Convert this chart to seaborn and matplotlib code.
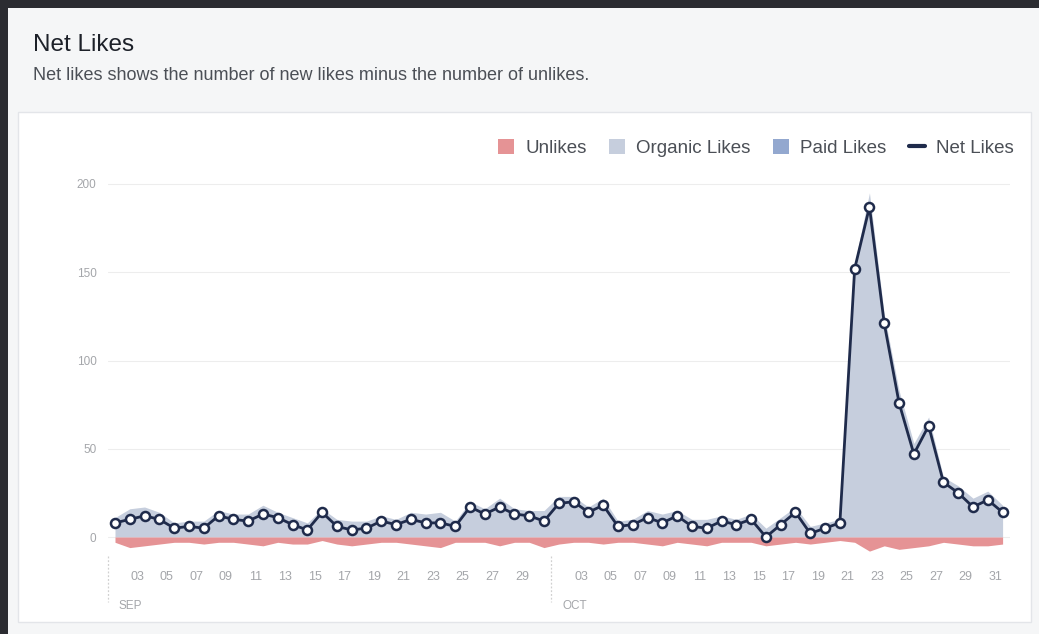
import pandas as pd
import matplotlib
matplotlib.use("Agg")
import matplotlib.pyplot as plt
import matplotlib.dates as mdates
from matplotlib.patches import Rectangle, Patch
from matplotlib.lines import Line2D
import seaborn as sns

# ---- data -------------------------------------------------------------
start_day = "2014-09-01 12:00"
end_day = "2014-10-31 12:00"

net_likes = [8, 10, 12, 10, 5, 6, 5, 12, 10, 9, 13, 11, 7, 4, 14, 6, 4, 5, 9, 7,
             10, 8, 8, 6, 17, 13, 17, 13, 12, 9,
             19, 20, 14, 18, 6, 7, 11, 8, 12, 6, 5, 9, 7, 10, 0, 7, 14, 2, 5, 8,
             152, 187, 121, 76, 47, 63, 31, 25, 17, 21, 14]
unlikes = [3, 6, 5, 4, 3, 3, 4, 3, 3, 4, 5, 3, 4, 4, 2, 4, 5, 4, 3, 3,
           4, 5, 6, 3, 3, 3, 5, 3, 3, 6,
           4, 3, 3, 4, 3, 3, 4, 5, 3, 4, 5, 3, 3, 3, 5, 4, 3, 4, 3, 2,
           3, 8, 5, 7, 6, 5, 3, 4, 5, 5, 4]
organic_likes = [11, 16, 17, 14, 8, 9, 9, 15, 13, 13, 18, 14, 11, 8, 16, 10, 9, 9, 12, 10,
                 14, 13, 14, 9, 20, 16, 22, 16, 15, 15,
                 23, 23, 17, 22, 9, 10, 15, 13, 15, 10, 10, 12, 10, 13, 5, 11, 17, 6, 8, 10,
                 155, 195, 126, 83, 53, 68, 34, 29, 22, 26, 18]
paid_likes = [0] * 61
month_labels = ["SEP", "OCT"]
month_starts = ["2014-09-01", "2014-10-01"]
y_ticks = [0, 50, 100, 150, 200]
legend_labels = ["Unlikes", "Organic Likes", "Paid Likes", "Net Likes"]

days = pd.date_range(start_day, end_day, freq="D")
df = pd.DataFrame({"day": days, "net": net_likes, "unlikes": unlikes,
                   "organic": organic_likes, "paid": paid_likes})

# ---- colours ----------------------------------------------------------
NAVY = "#1f2b4b"
ORGANIC = "#c6cedd"
PAID = "#93a8cf"
UNLIKE = "#e59395"
TICK_TXT = "#a4a6aa"

sns.set_style("white")
plt.rcParams["font.family"] = ["Liberation Sans", "DejaVu Sans"]

W, H = 1039, 634
fig = plt.figure(figsize=(W / 100, H / 100), dpi=100)
fig.patch.set_facecolor("#2b2c31")

# page panel and white card
fig.patches.append(Rectangle((8 / W, 0), 1 - 8 / W, 1 - 8 / H,
                             transform=fig.transFigure, facecolor="#f5f6f7",
                             edgecolor="none", zorder=-2))
fig.patches.append(Rectangle((18 / W, 1 - 622 / H), 1013 / W, 510 / H,
                             transform=fig.transFigure, facecolor="white",
                             edgecolor="#e3e5e9", linewidth=1.0, zorder=-1))

fig.text(33 / W, 1 - 45 / H, "Net Likes", fontsize=17.5, color="#1d2129",
         va="center", ha="left")
fig.text(33 / W, 1 - 76 / H, "Net likes shows the number of new likes minus the number of unlikes.",
         fontsize=13, color="#4b4f56", va="center", ha="left")

# ---- plot area --------------------------------------------------------
left_px, right_px = 107.6, 1010
y_lo, y_hi = -10, 205
px_per_unit = (537 - 184) / 200
bottom_px = 537 + (0 - y_lo) * px_per_unit
top_px = 537 - y_hi * px_per_unit
ax = fig.add_axes([left_px / W, 1 - bottom_px / H,
                   (right_px - left_px) / W, (bottom_px - top_px) / H])
ax.set_zorder(2)
ax.set_facecolor("none")

x = df["day"]
ax.fill_between(x, 0, df["organic"], color=ORGANIC, linewidth=0, zorder=1)
ax.fill_between(x, df["organic"], df["organic"] + df["paid"], color=PAID,
                linewidth=0, zorder=1)
ax.fill_between(x, 0, -df["unlikes"], color=UNLIKE, linewidth=0, zorder=1)

sns.lineplot(data=df, x="day", y="net", ax=ax, color=NAVY, linewidth=2.0,
             marker="o", markersize=6.5, markerfacecolor="white",
             markeredgecolor=NAVY, markeredgewidth=1.8, zorder=3)

ax.set_xlim(pd.Timestamp("2014-09-01"), pd.Timestamp("2014-11-01"))
ax.set_ylim(y_lo, y_hi)
ax.set_yticks(y_ticks)
ax.set_yticklabels([str(v) for v in y_ticks])
ax.yaxis.grid(True, color="#ededed", linewidth=0.8)
ax.set_axisbelow(True)
for s in ax.spines.values():
    s.set_visible(False)

ax.xaxis.set_major_locator(mdates.DayLocator(bymonthday=range(3, 32, 2)))
ax.xaxis.set_major_formatter(mdates.DateFormatter("%d"))
ax.tick_params(axis="x", length=3, width=0.8, color="#d4d4d4", pad=9,
               labelsize=9, labelcolor=TICK_TXT)
ax.tick_params(axis="y", length=0, pad=8, labelsize=8.5, labelcolor=TICK_TXT)
ax.set_xlabel("")
ax.set_ylabel("")

# month boundaries and month names under the day labels
xtrans = ax.get_xaxis_transform()
for name, ms in zip(month_labels, month_starts):
    d = mdates.date2num(pd.Timestamp(ms))
    ax.plot([d, d], [-0.003, -0.125], transform=xtrans, color="#d0d0d0",
            linestyle=(0, (1.5, 1.5)), linewidth=0.9, clip_on=False)
    ax.annotate(name, xy=(d, 0), xycoords=xtrans, xytext=(8, -37),
                textcoords="offset points", ha="left", va="center",
                fontsize=8.5, color=TICK_TXT)

# ---- legend -----------------------------------------------------------
handles = [Patch(facecolor=UNLIKE, edgecolor="none"),
           Patch(facecolor=ORGANIC, edgecolor="none"),
           Patch(facecolor=PAID, edgecolor="none"),
           Line2D([0], [0], color=NAVY, linewidth=3)]
fig.legend(handles, legend_labels, loc="center right",
           bbox_to_anchor=(1031 / W, 1 - 148 / H), ncol=4, frameon=False,
           fontsize=13.5, handlelength=0.85, handleheight=0.85,
           handletextpad=0.6, columnspacing=1.2, labelcolor="#4b4f56")

fig.savefig("out.png", dpi=100, facecolor=fig.get_facecolor())
